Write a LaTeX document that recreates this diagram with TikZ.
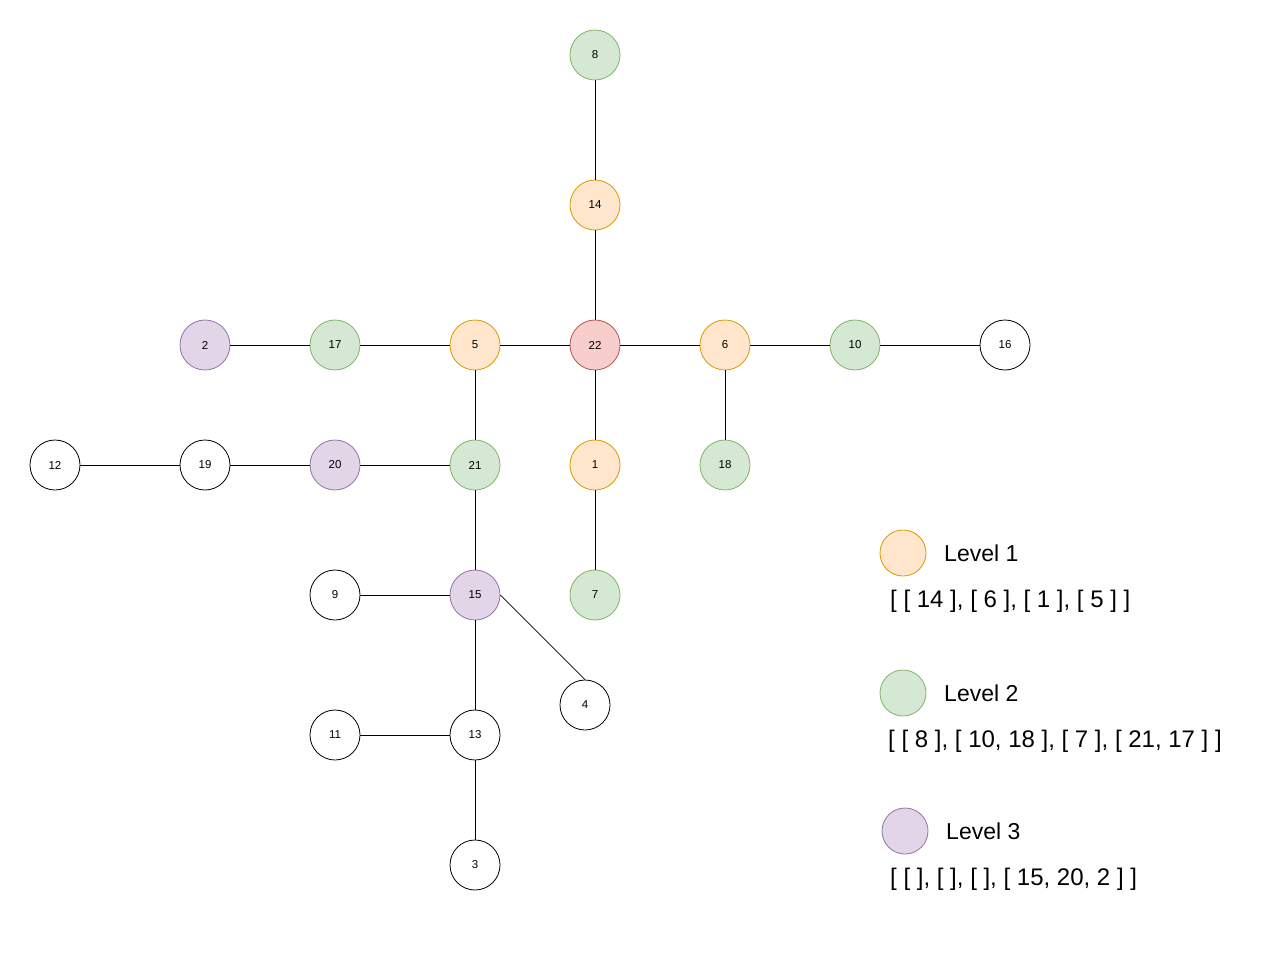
\documentclass[tikz,border=0pt]{standalone}
\usepackage{fontspec}
\setmainfont{Liberation Sans}
\definecolor{orF}{HTML}{FFE6CC}\definecolor{orD}{HTML}{D79B00}
\definecolor{grF}{HTML}{D5E8D4}\definecolor{grD}{HTML}{82B366}
\definecolor{puF}{HTML}{E1D5E7}\definecolor{puD}{HTML}{9673A6}
\definecolor{reF}{HTML}{F8CECC}\definecolor{reD}{HTML}{B85450}
\begin{document}
\begin{tikzpicture}[x=1pt,y=-1pt,
  vtx/.style={circle,draw=black,fill=white,line width=0.8pt,minimum size=50pt,inner sep=0pt,font=\fontsize{11.5}{13}\selectfont},
  lv1/.style={vtx,draw=orD,fill=orF},
  lv2/.style={vtx,draw=grD,fill=grF},
  lv3/.style={vtx,draw=puD,fill=puF},
  root/.style={vtx,draw=reD,fill=reF},
  leg/.style={circle,line width=0.8pt,minimum size=46pt,inner sep=0pt},
  ltxt/.style={anchor=west,inner sep=0pt,font=\fontsize{23}{27}\selectfont},
  lst/.style={anchor=west,inner sep=0pt,font=\fontsize{24}{28}\selectfont},
  edge/.style={line width=0.8pt,black}]
\useasboundingbox (0,0) rectangle (1266,972);
\node[lv2] (n8) at (595,55) {8};
\node[lv1] (n14) at (595,205) {14};
\node[root] (n22) at (595,345) {22};
\node[lv1] (n5) at (475,345) {5};
\node[lv2] (n17) at (335,345) {17};
\node[lv3] (n2) at (205,345) {2};
\node[lv1] (n6) at (725,345) {6};
\node[lv2] (n10) at (855,345) {10};
\node[vtx] (n16) at (1005,345) {16};
\node[lv2] (n21) at (475,465) {21};
\node[lv1] (n1) at (595,465) {1};
\node[lv2] (n18) at (725,465) {18};
\node[lv3] (n20) at (335,465) {20};
\node[vtx] (n19) at (205,465) {19};
\node[vtx] (n12) at (55,465) {12};
\node[lv3] (n15) at (475,595) {15};
\node[vtx] (n9) at (335,595) {9};
\node[lv2] (n7) at (595,595) {7};
\node[vtx] (n4) at (585,705) {4};
\node[vtx] (n13) at (475,735) {13};
\node[vtx] (n11) at (335,735) {11};
\node[vtx] (n3) at (475,865) {3};
\draw[edge] (n8) -- (n14);
\draw[edge] (n14) -- (n22);
\draw[edge] (n22) -- (n5);
\draw[edge] (n5) -- (n17);
\draw[edge] (n17) -- (n2);
\draw[edge] (n22) -- (n6);
\draw[edge] (n6) -- (n10);
\draw[edge] (n10) -- (n16);
\draw[edge] (n6) -- (n18);
\draw[edge] (n22) -- (n1);
\draw[edge] (n1) -- (n7);
\draw[edge] (n5) -- (n21);
\draw[edge] (n21) -- (n20);
\draw[edge] (n20) -- (n19);
\draw[edge] (n19) -- (n12);
\draw[edge] (n21) -- (n15);
\draw[edge] (n15) -- (n9);
\draw[edge] (n15.east) -- (n4.north);
\draw[edge] (n15) -- (n13);
\draw[edge] (n13) -- (n11);
\draw[edge] (n13) -- (n3);
% legend
\node[leg,draw=orD,fill=orF] (l1) at (903,553) {};
\node[ltxt] (t1) at (944,553) {Level 1};
\node[lst] (s1) at (890,601) {[ [ 14 ], [ 6 ], [ 1 ], [ 5 ] ]};
\node[leg,draw=grD,fill=grF] (l2) at (903,693) {};
\node[ltxt] (t2) at (944,693) {Level 2};
\node[lst] (s2) at (888,741) {[ [ 8 ], [ 10, 18 ], [ 7 ], [ 21, 17 ] ]};
\node[leg,draw=puD,fill=puF] (l3) at (905,831) {};
\node[ltxt] (t3) at (946,831) {Level 3};
\node[lst] (s3) at (890,879) {[ [ ], [ ], [ ], [ 15, 20, 2 ] ]};
\end{tikzpicture}
\end{document}
